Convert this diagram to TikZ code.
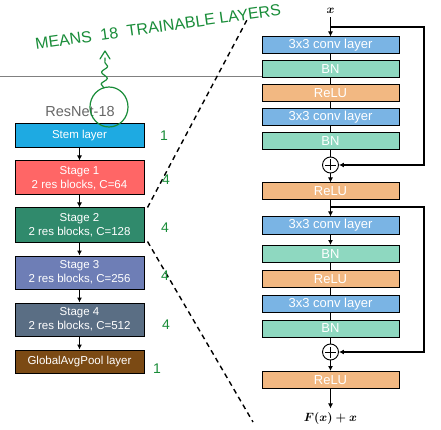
\documentclass[tikz,border=0pt]{standalone}
\usepackage{amsmath}
\usepackage{fontspec}
\setmainfont{Liberation Sans}
\usetikzlibrary{arrows.meta,decorations.pathmorphing}
\definecolor{cstem}{RGB}{30,170,226}
\definecolor{cs1}{RGB}{255,102,102}
\definecolor{cs2}{RGB}{48,138,108}
\definecolor{cs3}{RGB}{110,126,182}
\definecolor{cs4}{RGB}{90,110,132}
\definecolor{cgap}{RGB}{123,74,20}
\definecolor{cconv}{RGB}{122,180,228}
\definecolor{cbn}{RGB}{142,216,192}
\definecolor{crelu}{RGB}{242,184,130}
\definecolor{hand}{RGB}{24,140,56}
\begin{document}
\begin{tikzpicture}[x=1pt,y=-1pt,
  lbox/.style={draw=black,line width=1pt,minimum width=129pt,inner sep=0pt,text=white,align=center,font=\fontsize{11.5}{14}\selectfont},
  rbox/.style={draw=black,line width=1pt,minimum width=137pt,minimum height=17pt,inner sep=0pt,text=white,font=\fontsize{13}{14}\selectfont},
  plusnode/.style={circle,draw=black,line width=0.9pt,minimum size=16pt,inner sep=0pt,fill=white},
  conn/.style={line width=1.4pt,draw=black},
  arr/.style={conn,-{Latex[length=5pt,width=5pt]}},
  zoomline/.style={line width=1.4pt,dash pattern=on 5pt off 4pt},
  handink/.style={draw=hand,line width=1.2pt,line cap=round,line join=round},
  handtxt/.style={text=hand,font=\fontsize{14}{14}\selectfont}]
\useasboundingbox (0,0) rectangle (441,430);

% left column
\node[anchor=center,text=black!60,font=\fontsize{14.5}{16}\selectfont] (title) at (80,112) {ResNet-18};
\node[lbox,fill=cstem,minimum height=24pt] (stem) at (79.5,136) {Stem layer};
\node[lbox,fill=cs1,minimum height=34pt] (s1) at (79.5,178) {Stage 1\\2 res blocks, C=64};
\node[lbox,fill=cs2,minimum height=34pt] (s2) at (79.5,225) {Stage 2\\2 res blocks, C=128};
\node[lbox,fill=cs3,minimum height=33pt] (s3) at (79.5,272.5) {Stage 3\\2 res blocks, C=256};
\node[lbox,fill=cs4,minimum height=33pt] (s4) at (79.5,319.5) {Stage 4\\2 res blocks, C=512};
\node[lbox,fill=cgap,minimum height=23pt] (gap) at (79.5,361.5) {GlobalAvgPool layer};
\draw[arr] (stem) -- (s1);
\draw[arr] (s1) -- (s2);
\draw[arr] (s2) -- (s3);
\draw[arr] (s3) -- (s4);
\draw[arr] (s4) -- (gap);

% right column
\node[font=\fontsize{12}{12}\selectfont] (xin) at (330.5,11) {$\boldsymbol{x}$};
\node[rbox,fill=cconv] (c1) at (330.5,45.5) {3x3 conv layer};
\node[rbox,fill=cbn] (b1) at (330.5,69) {BN};
\node[rbox,fill=crelu] (r1) at (330.5,93) {ReLU};
\node[rbox,fill=cconv] (c2) at (330.5,117) {3x3 conv layer};
\node[rbox,fill=cbn] (b2) at (330.5,141) {BN};
\node[plusnode] (p1) at (330.5,165) {};
\node[rbox,fill=crelu] (r2) at (330.5,191.5) {ReLU};
\node[rbox,fill=cconv] (c3) at (330.5,225.5) {3x3 conv layer};
\node[rbox,fill=cbn] (b3) at (330.5,254) {BN};
\node[rbox,fill=crelu] (r3) at (330.5,279) {ReLU};
\node[rbox,fill=cconv] (c4) at (330.5,304) {3x3 conv layer};
\node[rbox,fill=cbn] (b4) at (330.5,328.5) {BN};
\node[plusnode] (p2) at (330.5,352) {};
\node[rbox,fill=crelu] (r4) at (330.5,380) {ReLU};
\node[font=\fontsize{12}{12}\selectfont] (out) at (330.5,418) {$\boldsymbol{F(x)+x}$};
\foreach \p in {p1,p2}{
  \draw[line width=0.9pt] ([yshift=-5.5pt]\p.center) -- ([yshift=5.5pt]\p.center)
    ([xshift=-5.5pt]\p.center) -- ([xshift=5.5pt]\p.center);
}
\coordinate (k1) at (330.5,27);
\coordinate (k1r) at (424,27);
\coordinate (k2) at (330.5,207);
\coordinate (k2r) at (424,207);

\draw[arr] (xin) -- (c1);
\draw[conn] (c1) -- (b1);
\draw[conn] (b1) -- (r1);
\draw[conn] (r1) -- (c2);
\draw[conn] (c2) -- (b2);
\draw[conn] (b2) -- (p1);
\draw[arr] (p1) -- (r2);
\draw[arr] (r2) -- (c3);
\draw[arr] (c3) -- (b3);
\draw[conn] (b3) -- (r3);
\draw[conn] (r3) -- (c4);
\draw[conn] (c4) -- (b4);
\draw[conn] (b4) -- (p2);
\draw[arr] (p2) -- (r4);
\draw[arr] (r4) -- (out);
\draw[arr] (k1) -- (k1r) |- (p1);
\draw[arr] (k2) -- (k2r) |- (p2);

% grey rule and dashed zoom lines
\coordinate (g0) at (0,77);
\draw[black!50,line width=1pt] (g0) -- (g0 -| b1.west);
\coordinate (d1) at (248,18);
\coordinate (d2) at (253,422);
\draw[zoomline] ([xshift=3pt]s2.north east) -- (d1);
\draw[zoomline] ([xshift=3pt,yshift=1pt]s2.south east) -- (d2);

% handwritten annotations
\node[handtxt,rotate=8,font=\fontsize{16}{16}\selectfont] (note) at (158,27) {MEANS\ \ 18\ \ TRAINABLE LAYERS};
\draw[handink] (109,107) ellipse [x radius=19, y radius=20];
\coordinate (w0) at (104,88);
\coordinate (w1) at (105,58);
\draw[handink,decorate,decoration={snake,amplitude=3pt,segment length=12pt}] (w0) -- (w1);
\draw[handink] (100,59) -- (105,51) -- (110,59);
\node[handtxt] (n0) at (164,136) {1};
\node[handtxt] (n1) at (166,180) {4};
\node[handtxt] (n2) at (165,228) {4};
\node[handtxt] (n3) at (165,276) {4};
\node[handtxt] (n4) at (166,325) {4};
\node[handtxt] (n5) at (157,369) {1};
\end{tikzpicture}
\end{document}
